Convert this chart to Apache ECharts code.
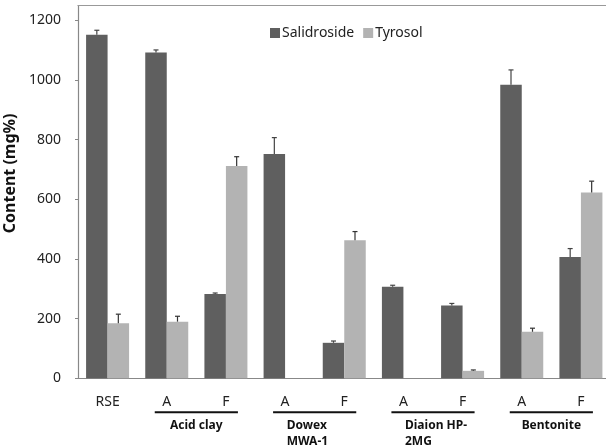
<!DOCTYPE html>
<html>
<head>
<meta charset="utf-8">
<script src="https://cdn.jsdelivr.net/npm/echarts@6/dist/echarts.min.js"></script>
<style>
  html, body { margin: 0; padding: 0; background: #fff; overflow: hidden; }
  #chart { width: 606px; height: 448px; }
</style>
</head>
<body>
<div id="chart"></div>
<script>
// Sample / treatment categories along the x axis
const categories = ['RSE', 'A', 'F', 'A', 'F', 'A', 'F', 'A', 'F'];

// Content (mg%) per sample, with upper error
const salidroside    = [1152, 1092, 283, 752, 119, 307, 244, 984, 407];
const salidrosideErr = [15, 9, 3, 55, 6, 5, 7, 50, 28];
const tyrosol        = [185, 190, 712, null, 463, null, 25, 156, 623];
const tyrosolErr     = [30, 18, 31, null, 29, null, 3, 12, 38];

// Adsorbent groups spanning pairs of categories (index of the "A" column)
const groupNames = ['Acid clay', 'Dowex\nMWA-1', 'Diaion HP-\n2MG', 'Bentonite'];
const groupStart = [1, 3, 5, 7];

const yTicks = { min: 0, max: 1250, interval: 200 };

const FONT = 'Noto Sans';
const BAR_W = 21.5;
const DARK = '#5f5f5f';
const LIGHT = '#b3b3b3';

function errorSeries(values, errs, offset, color) {
  return {
    type: 'custom',
    z: 5,
    data: values.map((v, i) => [i, v, errs[i]]),
    renderItem(params, api) {
      const v = api.value(1), e = api.value(2);
      if (v == null || isNaN(v) || !e) return;
      const idx = api.value(0);
      const p0 = api.coord([idx, v]);
      const p1 = api.coord([idx, v + e]);
      const x = p0[0] + offset;
      const st = { stroke: color, lineWidth: 1.2 };
      return {
        type: 'group',
        children: [
          { type: 'line', shape: { x1: x, y1: p0[1], x2: x, y2: p1[1] }, style: st },
          { type: 'line', shape: { x1: x - 2.5, y1: p1[1], x2: x + 2.5, y2: p1[1] }, style: st }
        ]
      };
    }
  };
}

const chart = echarts.init(document.getElementById('chart'), null, { renderer: 'canvas' });

chart.setOption({
  animation: false,
  textStyle: { fontFamily: FONT },
  grid: {
    left: 78, right: -4.5, top: 5.5, bottom: 69.7,
    outerBoundsMode: 'none'
  },
  legend: {
    left: 265, top: 21,
    itemWidth: 10, itemHeight: 10, itemGap: 9,
    icon: 'rect',
    textStyle: { fontFamily: FONT, fontSize: 14, color: '#222', padding: [0, 0, 0, -3] },
    data: ['Salidroside', 'Tyrosol']
  },
  xAxis: [
    {
      type: 'category',
      data: categories,
      axisLine: { lineStyle: { color: '#888', width: 1.2 } },
      axisTick: { inside: true, length: 5, interval: 0, lineStyle: { color: '#444' } },
      axisLabel: { interval: 0, margin: 17, fontSize: 14, color: '#222', fontFamily: FONT }
    },
    {
      // frame line along the top of the plot
      type: 'category',
      data: categories,
      position: 'top',
      axisLine: { lineStyle: { color: '#999', width: 1.2 } },
      axisTick: { show: false },
      axisLabel: { show: false }
    }
  ],
  yAxis: {
    type: 'value',
    min: yTicks.min, max: yTicks.max, interval: yTicks.interval,
    name: 'Content (mg%)',
    nameLocation: 'middle',
    nameRotate: 90,
    nameGap: 42,
    nameTextStyle: { fontSize: 16, fontWeight: 'bold', color: '#111', fontFamily: FONT, padding: [0, 0, 0, 37] },
    axisLine: { show: true, lineStyle: { color: '#888', width: 1.2 } },
    axisTick: { show: true, inside: false, length: 3, lineStyle: { color: '#888' } },
    axisLabel: {
      margin: 17, fontSize: 14, color: '#222', fontFamily: FONT, showMaxLabel: false,
      formatter: v => String(v)
    },
    splitLine: { show: false }
  },
  series: [
    {
      name: 'Salidroside', type: 'bar', data: salidroside,
      barWidth: BAR_W, barGap: '0%',
      itemStyle: { color: DARK }
    },
    {
      name: 'Tyrosol', type: 'bar', data: tyrosol,
      barWidth: BAR_W, barGap: '0%',
      itemStyle: { color: LIGHT }
    },
    errorSeries(salidroside, salidrosideErr, -BAR_W / 2, '#444'),
    errorSeries(tyrosol, tyrosolErr, BAR_W / 2, '#333')
  ]
});

// Group brackets and names under the A/F label pairs, placed from the axis scale
const xAt = i => chart.convertToPixel({ xAxisIndex: 0 }, i);
const baseY = chart.convertToPixel({ yAxisIndex: 0 }, 0);
const graphics = [];
groupNames.forEach((name, g) => {
  const a = xAt(groupStart[g]);
  const f = xAt(groupStart[g] + 1);
  const mid = (a + f) / 2;
  graphics.push({
    type: 'line',
    shape: { x1: a - 12, y1: baseY + 34, x2: f + 12, y2: baseY + 34 },
    style: { stroke: '#111', lineWidth: 2 }
  });
  const multi = name.indexOf('\n') >= 0;
  graphics.push({
    type: 'text',
    x: multi ? mid - 28 : mid,
    y: baseY + 39,
    style: {
      text: name,
      fontFamily: FONT, fontSize: 12, fontWeight: 'bold', fill: '#111',
      align: multi ? 'left' : 'center', verticalAlign: 'top', lineHeight: 16
    }
  });
});
chart.setOption({ graphic: graphics });
</script>
</body>
</html>
